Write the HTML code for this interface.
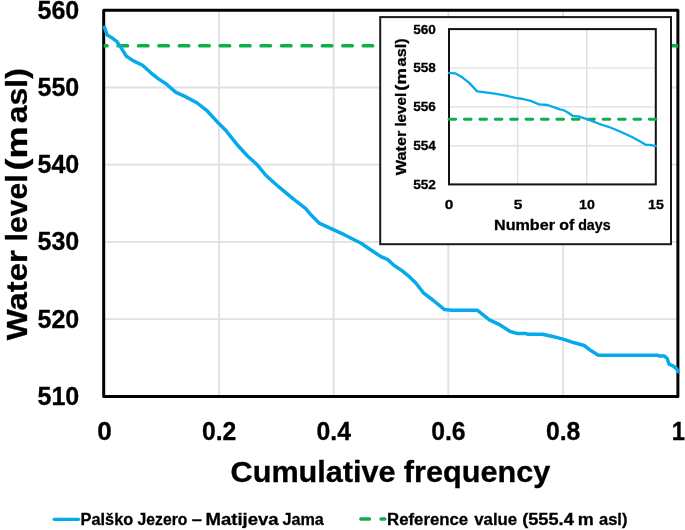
<!DOCTYPE html>
<html lang="en"><head><meta charset="utf-8"><title>Cumulative frequency of water level</title>
<style>html,body{margin:0;padding:0;background:#fff}body{width:685px;height:530px;overflow:hidden}svg{display:block;will-change:transform}text{font-family:"Liberation Sans",Arial,sans-serif;font-weight:bold;fill:#000;stroke:#000;stroke-width:.3px}</style>
</head><body>
<svg width="685" height="530" viewBox="0 0 685 530">
<rect width="685" height="530" fill="#fff"/>
<path d="M219.0 10.3 V396.4 M333.6 10.3 V396.4 M448.3 10.3 V396.4 M563.0 10.3 V396.4 M103.7 87.5 H677.9 M103.7 164.7 H677.9 M103.7 241.9 H677.9 M103.7 319.1 H677.9" stroke="#e0e0e0" stroke-width="1.8" fill="none"/>
<rect x="103.7" y="10.3" width="574.2" height="386.1" fill="none" stroke="#000" stroke-width="3" stroke-linejoin="round"/>
<clipPath id="cm"><rect x="103.7" y="9" width="574.4" height="388"/></clipPath>
<path clip-path="url(#cm)" d="M97.7 45.75 H690" stroke="#0eaf47" stroke-width="3.7" stroke-linecap="round" stroke-dasharray="9.3 11.13" fill="none"/>
<path d="M104.4 27.4 L107.3 35.1 L111.3 37.4 L117.0 41.7 L120.8 47.4 L126.4 56.2 L133.0 60.6 L142.5 65.3 L150.9 72.8 L158.5 78.9 L166.0 83.8 L175.5 92.1 L184.9 96.4 L197.2 103.0 L207.5 111.2 L218.9 123.6 L226.4 131.1 L237.7 145.3 L247.2 155.7 L256.6 164.2 L266.0 175.5 L279.2 187.2 L293.2 198.9 L305.5 208.3 L310.2 214.0 L319.6 223.4 L332.8 229.4 L344.2 234.7 L361.1 243.2 L370.6 249.8 L380.9 256.6 L387.5 259.4 L394.2 265.5 L402.6 271.1 L408.3 275.8 L415.8 283.0 L423.4 292.8 L432.8 300.0 L444.2 309.4 L451.7 310.2 L477.2 310.2 L489.4 319.8 L498.9 324.3 L510.2 331.5 L516.8 333.4 L525.3 333.4 L528.1 334.3 L542.3 334.3 L551.7 336.2 L563.0 339.1 L574.3 342.8 L584.2 345.5 L590.8 350.6 L598.3 355.3 L657.7 355.3 L659.6 356.0 L664.3 356.0 L667.2 358.5 L669.1 364.2 L673.8 366.4 L676.6 368.9 L678.3 371.7" stroke="#06aaeb" stroke-width="3.5" stroke-linejoin="round" stroke-linecap="round" fill="none"/>
<rect x="380.2" y="17.1" width="290.8" height="227.1" fill="#fff" stroke="#1a1a1a" stroke-width="2"/>
<path d="M517.65 29.1 V184.4 M586.70 29.1 V184.4 M449.0 67.9 H655.8 M449.0 106.9 H655.8 M449.0 145.8 H655.8" stroke="#e0e0e0" stroke-width="1.4" fill="none"/>
<rect x="449.0" y="29.1" width="206.8" height="155.3" fill="none" stroke="#111" stroke-width="2"/>
<path d="M449.0 119.3 H656" stroke="#0eaf47" stroke-width="2.9" stroke-linecap="round" stroke-dasharray="6.7 8.71" fill="none"/>
<path d="M448.9 72.9 L455.1 73.3 L462.6 77.6 L469.2 82.9 L477.2 91.4 L483.4 92.2 L494.7 93.7 L506.0 95.6 L515.5 97.8 L523.0 99.0 L530.6 100.8 L539.1 104.4 L547.5 105.0 L560.0 109.3 L563.2 110.0 L567.9 112.5 L572.6 115.8 L578.3 116.4 L587.7 119.4 L599.1 123.8 L610.4 127.5 L621.7 132.3 L633.0 137.5 L640.6 141.7 L646.2 144.9 L650.0 144.9 L656.0 146.2" stroke="#06aaeb" stroke-width="2.3" stroke-linejoin="round" stroke-linecap="round" fill="none"/>
<text x="37.5" y="18.7" font-size="25.2" text-anchor="start" textLength="41.8" lengthAdjust="spacingAndGlyphs">560</text>
<text x="37.5" y="95.9" font-size="25.2" text-anchor="start" textLength="41.8" lengthAdjust="spacingAndGlyphs">550</text>
<text x="37.5" y="173.1" font-size="25.2" text-anchor="start" textLength="41.8" lengthAdjust="spacingAndGlyphs">540</text>
<text x="37.5" y="250.3" font-size="25.2" text-anchor="start" textLength="41.8" lengthAdjust="spacingAndGlyphs">530</text>
<text x="37.5" y="327.5" font-size="25.2" text-anchor="start" textLength="41.8" lengthAdjust="spacingAndGlyphs">520</text>
<text x="37.5" y="404.6" font-size="25.2" text-anchor="start" textLength="41.8" lengthAdjust="spacingAndGlyphs">510</text>
<text x="97.3" y="439.8" font-size="25.2" text-anchor="start" textLength="14.6" lengthAdjust="spacingAndGlyphs">0</text>
<text x="201.9" y="439.8" font-size="25.2" text-anchor="start" textLength="34.4" lengthAdjust="spacingAndGlyphs">0.2</text>
<text x="316.5" y="439.8" font-size="25.2" text-anchor="start" textLength="34.4" lengthAdjust="spacingAndGlyphs">0.4</text>
<text x="431.2" y="439.8" font-size="25.2" text-anchor="start" textLength="34.4" lengthAdjust="spacingAndGlyphs">0.6</text>
<text x="545.9" y="439.8" font-size="25.2" text-anchor="start" textLength="34.4" lengthAdjust="spacingAndGlyphs">0.8</text>
<text x="671.7" y="439.8" font-size="25.2" text-anchor="start" textLength="13.2" lengthAdjust="spacingAndGlyphs">1</text>
<text x="230.6" y="481.8" font-size="29.4" text-anchor="start" textLength="165" lengthAdjust="spacingAndGlyphs">Cumulative</text>
<text x="403.8" y="481.8" font-size="29.4" text-anchor="start" textLength="146.5" lengthAdjust="spacingAndGlyphs">frequency</text>
<text transform="translate(26.7 340.2) rotate(-90)" font-size="29.4" textLength="90" lengthAdjust="spacingAndGlyphs">Water</text>
<text transform="translate(26.7 241.4) rotate(-90)" font-size="29.4" textLength="67" lengthAdjust="spacingAndGlyphs">level</text>
<text transform="translate(26.7 170.4) rotate(-90)" font-size="29.4" textLength="44" lengthAdjust="spacingAndGlyphs">(m</text>
<text transform="translate(26.7 123.2) rotate(-90)" font-size="29.4" textLength="55" lengthAdjust="spacingAndGlyphs">asl)</text>
<path d="M54.2 519.3 H78.6" stroke="#06aaeb" stroke-width="3.2" stroke-linecap="round" fill="none"/>
<path d="M360.8 519 H369.5 M381 519 H384.8" stroke="#0eaf47" stroke-width="3.4" stroke-linecap="round" fill="none"/>
<text x="80.6" y="524.5" font-size="16.8" text-anchor="start" textLength="52.6" lengthAdjust="spacingAndGlyphs">Palško</text>
<text x="137.6" y="524.5" font-size="16.8" text-anchor="start" textLength="49.8" lengthAdjust="spacingAndGlyphs">Jezero</text>
<text x="191.8" y="524.5" font-size="16.8" text-anchor="start" textLength="10.2" lengthAdjust="spacingAndGlyphs">–</text>
<text x="205.6" y="524.5" font-size="16.8" text-anchor="start" textLength="73" lengthAdjust="spacingAndGlyphs">Matijeva</text>
<text x="282.4" y="524.5" font-size="16.8" text-anchor="start" textLength="41.4" lengthAdjust="spacingAndGlyphs">Jama</text>
<text x="387.0" y="524.5" font-size="16.8" text-anchor="start" textLength="81.2" lengthAdjust="spacingAndGlyphs">Reference</text>
<text x="474.2" y="524.5" font-size="16.8" text-anchor="start" textLength="43" lengthAdjust="spacingAndGlyphs">value</text>
<text x="522.2" y="524.5" font-size="16.8" text-anchor="start" textLength="51.6" lengthAdjust="spacingAndGlyphs">(555.4</text>
<text x="577.8" y="524.5" font-size="16.8" text-anchor="start" textLength="16" lengthAdjust="spacingAndGlyphs">m</text>
<text x="599.0" y="524.5" font-size="16.8" text-anchor="start" textLength="28.4" lengthAdjust="spacingAndGlyphs">asl)</text>
<text x="413.2" y="33.6" font-size="13.6" text-anchor="start" textLength="22.7" lengthAdjust="spacingAndGlyphs">560</text>
<text x="413.2" y="72.4" font-size="13.6" text-anchor="start" textLength="22.7" lengthAdjust="spacingAndGlyphs">558</text>
<text x="413.2" y="111.2" font-size="13.6" text-anchor="start" textLength="22.7" lengthAdjust="spacingAndGlyphs">556</text>
<text x="413.2" y="150.1" font-size="13.6" text-anchor="start" textLength="22.7" lengthAdjust="spacingAndGlyphs">554</text>
<text x="413.2" y="188.9" font-size="13.6" text-anchor="start" textLength="22.7" lengthAdjust="spacingAndGlyphs">552</text>
<text x="444.8" y="208.9" font-size="13.6" text-anchor="start" textLength="8.6" lengthAdjust="spacingAndGlyphs">0</text>
<text x="513.7" y="208.9" font-size="13.6" text-anchor="start" textLength="8.6" lengthAdjust="spacingAndGlyphs">5</text>
<text x="579.1" y="208.9" font-size="13.6" text-anchor="start" textLength="15.8" lengthAdjust="spacingAndGlyphs">10</text>
<text x="648.0" y="208.9" font-size="13.6" text-anchor="start" textLength="15.8" lengthAdjust="spacingAndGlyphs">15</text>
<text x="494.0" y="230.4" font-size="14.7" text-anchor="start" textLength="61" lengthAdjust="spacingAndGlyphs">Number</text>
<text x="559.2" y="230.4" font-size="14.7" text-anchor="start" textLength="15" lengthAdjust="spacingAndGlyphs">of</text>
<text x="578.2" y="230.4" font-size="14.7" text-anchor="start" textLength="32.4" lengthAdjust="spacingAndGlyphs">days</text>
<text transform="translate(405.8 175.2) rotate(-90)" font-size="14.7" textLength="44.4" lengthAdjust="spacingAndGlyphs">Water</text>
<text transform="translate(405.8 126.6) rotate(-90)" font-size="14.7" textLength="33.8" lengthAdjust="spacingAndGlyphs">level</text>
<text transform="translate(405.8 90.7) rotate(-90)" font-size="14.7" textLength="22.6" lengthAdjust="spacingAndGlyphs">(m</text>
<text transform="translate(405.8 66.4) rotate(-90)" font-size="14.7" textLength="28" lengthAdjust="spacingAndGlyphs">asl)</text>
</svg></body></html>
